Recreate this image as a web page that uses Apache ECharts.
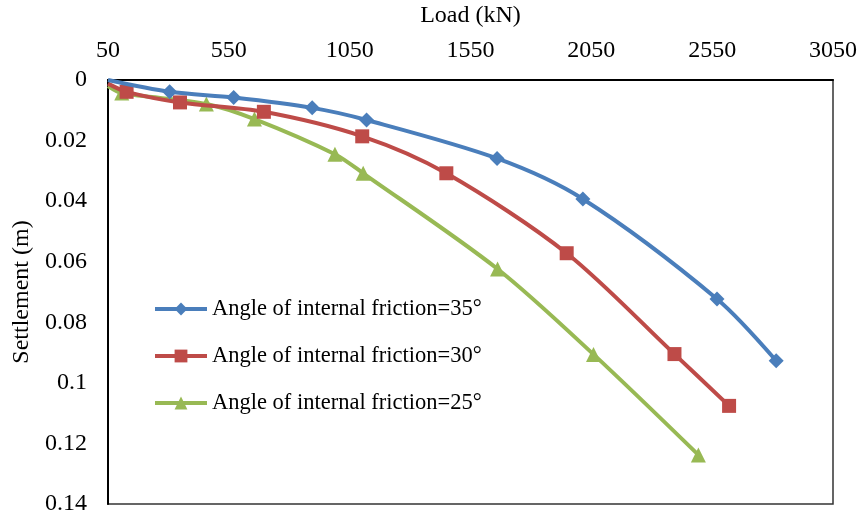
<!DOCTYPE html>
<html>
<head>
<meta charset="utf-8">
<title>Load–settlement curves</title>
<script src="https://cdn.jsdelivr.net/npm/echarts@6/dist/echarts.min.js"></script>
<style>
  html, body { margin: 0; padding: 0; background: #fff; }
  #chart { width: 862px; height: 516px; }
</style>
</head>
<body>
<div id="chart"></div>
<script>
// Load (kN) and settlement (m) for each friction angle
const seriesNames = [
  'Angle of internal friction=35°',
  'Angle of internal friction=30°',
  'Angle of internal friction=25°'
];
const load35 = [50, 305, 570, 895, 1120, 1660, 2015, 2570, 2815];
const settle35 = [0, 0.0039, 0.0058, 0.0092, 0.0132, 0.0259, 0.0393, 0.0723, 0.0927];
const load30 = [50, 127, 348, 695, 1102, 1450, 1948, 2394, 2620];
const settle30 = [0.0012, 0.0039, 0.0074, 0.0105, 0.0186, 0.0308, 0.0572, 0.0905, 0.1076];
const load25 = [50, 107, 457, 656, 989, 1106, 1662, 2059, 2493];
const settle25 = [0.002, 0.0043, 0.0079, 0.0129, 0.0245, 0.0308, 0.0624, 0.0906, 0.1238];
const loadTicks = [50, 550, 1050, 1550, 2050, 2550, 3050];

const FONT = 'Liberation Serif, Times New Roman, serif';
const colors = ['#4A7EBB', '#BE4B48', '#98B954'];
const symbols = ['diamond', 'rect', 'triangle'];
const symbolSizes = [15, 14, 15];

// The first reading sits on the axis corner and carries no marker
function pairs(loads, settles) {
  return loads.map((x, i) => i === 0
    ? { value: [x, settles[i]], symbol: 'none' }
    : [x, settles[i]]);
}

const dataSets = [
  pairs(load35, settle35),
  pairs(load30, settle30),
  pairs(load25, settle25)
];

const chart = echarts.init(document.getElementById('chart'), null, { renderer: 'canvas' });

chart.setOption({
  animation: false,
  backgroundColor: '#fff',
  grid: {
    left: 108, top: 80, right: 29, bottom: 12,
    show: true, borderColor: '#333', borderWidth: 1.5,
    containLabel: false,
    outerBoundsMode: 'none'
  },
  legend: {
    orient: 'vertical',
    left: 153,
    top: 297,
    padding: 0,
    itemWidth: 52,
    itemHeight: 16,
    itemGap: 23,
    data: seriesNames,
    lineStyle: { width: 4 },
    textStyle: { fontFamily: FONT, fontSize: 22.5, color: '#000', lineHeight: 24 }
  },
  xAxis: {
    type: 'value',
    position: 'top',
    min: 50,
    max: 3050,
    name: 'Load (kN)',
    nameLocation: 'middle',
    nameGap: 52,
    nameTextStyle: { fontFamily: FONT, fontSize: 24, color: '#000' },
    axisLine: { show: true, lineStyle: { color: '#000', width: 2 } },
    axisTick: { show: false },
    splitLine: { show: false },
    axisLabel: {
      customValues: loadTicks,
      formatter: v => String(v),
      fontFamily: FONT, fontSize: 24, color: '#000', margin: 17
    }
  },
  yAxis: {
    type: 'value',
    inverse: true,
    min: 0,
    max: 0.14,
    interval: 0.02,
    name: 'Settlement (m)',
    nameLocation: 'middle',
    nameGap: 73,
    nameRotate: 90,
    nameTextStyle: { fontFamily: FONT, fontSize: 24, color: '#000' },
    axisLine: { show: true, lineStyle: { color: '#000', width: 2 } },
    axisTick: { show: false },
    splitLine: { show: false },
    axisLabel: { fontFamily: FONT, fontSize: 24, color: '#000', margin: 21 }
  },
  series: seriesNames.map((name, i) => ({
    name: name,
    type: 'line',
    smooth: 0.3,
    data: dataSets[i],
    symbol: symbols[i],
    symbolSize: symbolSizes[i],
    showAllSymbol: true,
    clip: false,
    itemStyle: { color: colors[i] },
    lineStyle: { color: colors[i], width: 4 },
    z: 3 - i
  }))
});
</script>
</body>
</html>
